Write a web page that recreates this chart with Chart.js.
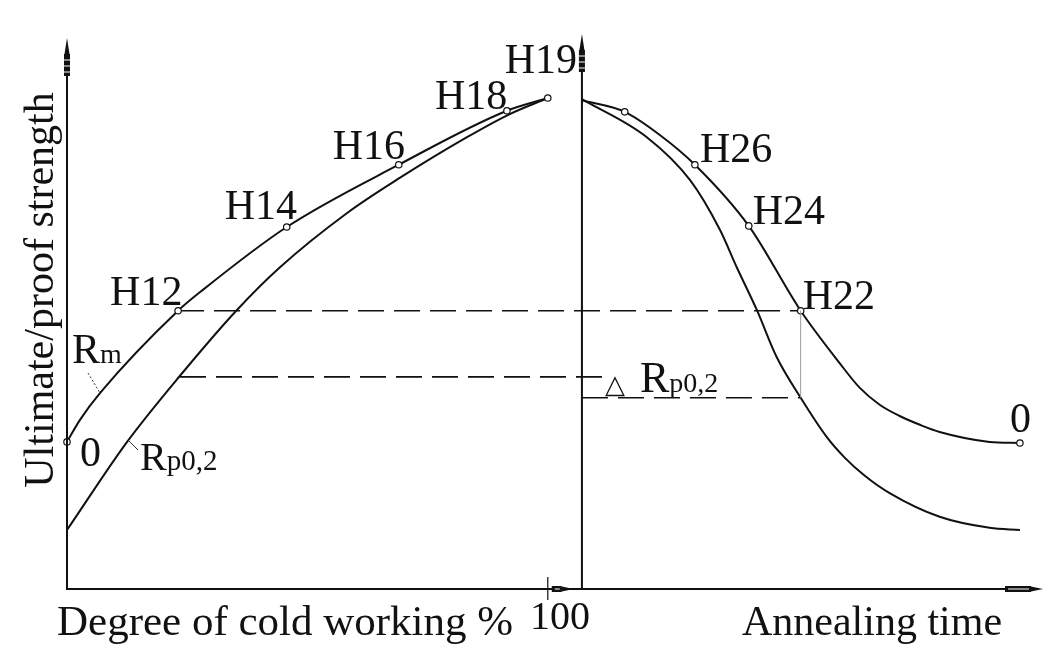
<!DOCTYPE html>
<html>
<head>
<meta charset="utf-8">
<script src="https://cdn.jsdelivr.net/npm/chart.js@4.4.1/dist/chart.umd.min.js"></script>
<style>
  html, body { margin: 0; padding: 0; background: #fff; }
  #wrap { width: 1056px; height: 662px; position: relative; }
</style>
</head>
<body>
<div id="wrap"><canvas id="chart"></canvas></div>
<script>
// ===================== DATA =====================
// x: degree of cold working (%) on the left, annealing time (arb.) on the right
// y: strength (arbitrary units, 0..100)

const coldWorkRm = [0, 2.7, 6.9, 23.1, 27.7, 45.7, 69.0, 91.5, 100];
const rmCold     = [26.7, 30.7, 35.6, 50.5, 53.9, 65.7, 77.0, 86.8, 89.1];
const rmColdTags = ['0', '', '', 'H12', '', 'H14', 'H16', 'H18', 'H19'];

const coldWorkRp = [0, 12.5, 23.5, 35.3, 44.3, 58.2, 69.2, 83.2, 92.1, 100];
const rpCold     = [10.7, 26.7, 38.7, 50.6, 58.4, 68.2, 74.6, 82.0, 86.2, 89.1];

const annealRm     = [0, 8.9, 16.2, 23.5, 34.7, 45.5, 53.6, 57.8, 62.0, 66.1, 70.3, 74.4, 84.8, 91.1];
const rmAnneal     = [88.7, 86.6, 82.4, 77.0, 65.9, 50.5, 41.0, 36.5, 33.4, 31.4, 29.8, 28.5, 26.7, 26.5];
const rmAnnealTags = ['', '*', '', 'H26', 'H24', 'H22', '', '', '', '', '', '', '', '0'];

const annealRp = [0, 13.5, 22.5, 28.7, 32.2, 36.4, 40.5, 45.5, 50.9, 54.7, 58.9, 64.0, 74.4, 84.8, 91.1];
const rpAnneal = [88.9, 82.0, 74.2, 65.2, 58.4, 50.6, 42.1, 34.7, 27.6, 23.8, 20.5, 17.4, 13.1, 11.1, 10.7];

const rpAtH12  = 38.5;   // Rp0,2 reached at the H12 degree of cold working
const rpAtH22  = 34.7;   // Rp0,2 at the H22 annealing point

// ===================== LAYOUT =====================

const ANNEAL_ORIGIN = 107.1;   // x position of the annealing-time axis
const X_MAX = 203;
const SERIF = '"Liberation Serif", "DejaVu Serif", serif';

// text offsets (px) from the marked point: [dx to text left, dy to baseline]
const tagOffset = {
    '0L': [13, 24], H12: [-68, -6], H14: [-62, -8], H16: [-66, -6], H18: [-72, -2], H19: [-43, -25],
    H26: [5, -3], H24: [4, -2], H22: [2, -2], '0R': [-10, -11]
};

function pts(xs, ys, offset) {
    return xs.map((v, i) => ({ x: v + (offset || 0), y: ys[i] }));
}

function markRadius(tags) {
    return tags.map(t => t ? 3.2 : 0);
}

const curveStyle = {
    showLine: true,
    borderColor: '#111',
    borderWidth: 2,
    cubicInterpolationMode: 'monotone',
    pointBackgroundColor: '#fff',
    pointBorderColor: '#111',
    pointBorderWidth: 1.2,
    pointRadius: 0,
    clip: false
};

const dashStyle = {
    showLine: true,
    borderColor: '#111',
    borderWidth: 1.6,
    borderDash: [26, 10],
    pointRadius: 0,
    clip: false
};

// ===================== DRAWING HELPERS =====================

function upArrow(ctx, x, yTip) {
    ctx.save();
    ctx.fillStyle = '#111';
    ctx.strokeStyle = '#111';
    ctx.lineWidth = 1.5;
    ctx.beginPath();
    ctx.moveTo(x, yTip);
    ctx.lineTo(x - 2.5, yTip + 16);
    ctx.lineTo(x + 2.5, yTip + 16);
    ctx.closePath();
    ctx.fill();
    ctx.fillRect(x - 3, yTip + 16, 6, 22);
    ctx.strokeStyle = '#fff';
    ctx.lineWidth = 1;
    [22, 28, 34].forEach(d => {
        ctx.beginPath();
        ctx.moveTo(x - 3, yTip + d);
        ctx.lineTo(x + 3, yTip + d);
        ctx.stroke();
    });
    ctx.restore();
}

function rightArrow(ctx, xTip, y, len) {
    ctx.save();
    ctx.fillStyle = '#111';
    ctx.beginPath();
    ctx.moveTo(xTip, y);
    ctx.lineTo(xTip - 12, y - 2.5);
    ctx.lineTo(xTip - 12, y + 2.5);
    ctx.closePath();
    ctx.fill();
    ctx.fillRect(xTip - len, y - 3, len - 12, 6);
    ctx.strokeStyle = '#fff';
    ctx.lineWidth = 1;
    ctx.beginPath();
    ctx.moveTo(xTip - len + 3, y);
    ctx.lineTo(xTip - 14, y);
    ctx.stroke();
    ctx.restore();
}

function subText(ctx, x, base, main, sub, mainSize, subSize) {
    ctx.font = mainSize + 'px ' + SERIF;
    ctx.fillText(main, x, base);
    const w = ctx.measureText(main).width;
    ctx.font = subSize + 'px ' + SERIF;
    ctx.fillText(sub, x + w, base);
}

const sketchPlugin = {
    id: 'sketch',
    afterDraw(chart) {
        const { ctx, scales: { x, y } } = chart;
        const px = v => x.getPixelForValue(v);
        const py = v => y.getPixelForValue(v);
        const x0 = px(0), xA = px(ANNEAL_ORIGIN), x100 = px(100), yB = py(0);

        ctx.save();
        // axes
        ctx.strokeStyle = '#111';
        ctx.lineWidth = 2;
        ctx.beginPath();
        ctx.moveTo(x0, 76); ctx.lineTo(x0, yB);
        ctx.lineTo(x.right - 10, yB);
        ctx.moveTo(xA, 72); ctx.lineTo(xA, yB);
        ctx.stroke();
        ctx.lineWidth = 1.2;
        ctx.beginPath();
        ctx.moveTo(x100, yB - 12); ctx.lineTo(x100, yB + 11);
        ctx.stroke();
        upArrow(ctx, x0, 38);
        upArrow(ctx, xA, 34);
        rightArrow(ctx, x100 + 26, yB, 22);
        rightArrow(ctx, x.right, yB, 38);

        // annealing point guide
        ctx.strokeStyle = '#9a9a9a';
        ctx.lineWidth = 1;
        const xH22 = px(ANNEAL_ORIGIN + annealRm[5]);
        ctx.beginPath();
        ctx.moveTo(xH22, py(rmAnneal[5])); ctx.lineTo(xH22, py(rpAtH22));
        ctx.stroke();

        // hardness tags
        ctx.fillStyle = '#111';
        ctx.textBaseline = 'alphabetic';
        ctx.textAlign = 'left';
        ctx.font = '42px ' + SERIF;
        rmColdTags.forEach((t, i) => {
            if (!t) return;
            const o = tagOffset[t === '0' ? '0L' : t];
            ctx.fillText(t, px(coldWorkRm[i]) + o[0], py(rmCold[i]) + o[1]);
        });
        rmAnnealTags.forEach((t, i) => {
            if (!t || t === '*') return;
            const o = tagOffset[t === '0' ? '0R' : t];
            ctx.fillText(t, px(ANNEAL_ORIGIN + annealRm[i]) + o[0], py(rmAnneal[i]) + o[1]);
        });

        // curve names
        subText(ctx, 72, 363, 'R', 'm', 42, 28);
        subText(ctx, 140, 470, 'R', 'p0,2', 40, 29);
        ctx.font = '26px "DejaVu Sans", sans-serif';
        ctx.fillText('\u25B3', 605, 393);
        subText(ctx, 640, 392, 'R', 'p0,2', 44, 28);
        ctx.lineWidth = 1;
        ctx.strokeStyle = '#333';
        ctx.setLineDash([2, 2]);
        ctx.beginPath();
        ctx.moveTo(88, 373); ctx.lineTo(100, 393);
        ctx.stroke();
        ctx.setLineDash([]);
        ctx.beginPath();
        ctx.moveTo(128, 440); ctx.lineTo(138, 450);
        ctx.stroke();

        // axis titles
        ctx.font = '43px ' + SERIF;
        ctx.fillText('Degree of cold working %', 57, 635);
        ctx.font = '42px ' + SERIF;
        ctx.fillText('Annealing time', 742, 635);
        ctx.textAlign = 'center';
        ctx.font = '40px ' + SERIF;
        ctx.fillText('100', 560, 629);
        ctx.font = '42px ' + SERIF;
        ctx.translate(53, 290);
        ctx.rotate(-Math.PI / 2);
        ctx.fillText('Ultimate/proof strength', 0, 0);
        ctx.restore();
    }
};

// ===================== CHART =====================

new Chart(document.getElementById('chart'), {
    type: 'scatter',
    data: {
        datasets: [
            { ...curveStyle, data: pts(coldWorkRm, rmCold), pointRadius: markRadius(rmColdTags) },
            { ...curveStyle, data: pts(coldWorkRp, rpCold) },
            { ...curveStyle, data: pts(annealRm, rmAnneal, ANNEAL_ORIGIN), pointRadius: markRadius(rmAnnealTags) },
            { ...curveStyle, data: pts(annealRp, rpAnneal, ANNEAL_ORIGIN) },
            { ...dashStyle, data: [
                { x: coldWorkRm[3], y: rmCold[3] },
                { x: ANNEAL_ORIGIN + annealRm[5], y: rmAnneal[5] }
            ] },
            { ...dashStyle, data: [
                { x: coldWorkRp[2], y: rpAtH12 },
                { x: ANNEAL_ORIGIN + 4.8, y: rpAtH12 }
            ] },
            { ...dashStyle, data: [
                { x: ANNEAL_ORIGIN, y: rpAtH22 },
                { x: ANNEAL_ORIGIN + annealRm[5], y: rpAtH22 }
            ] }
        ]
    },
    options: {
        responsive: true,
        maintainAspectRatio: false,
        animation: false,
        layout: { padding: { left: 67, right: 13, top: 38, bottom: 73 } },
        plugins: { legend: { display: false }, tooltip: { enabled: false } },
        scales: {
            x: { type: 'linear', min: 0, max: X_MAX, display: false },
            y: { type: 'linear', min: 0, max: 100, display: false }
        }
    },
    plugins: [sketchPlugin]
});
</script>
</body>
</html>
